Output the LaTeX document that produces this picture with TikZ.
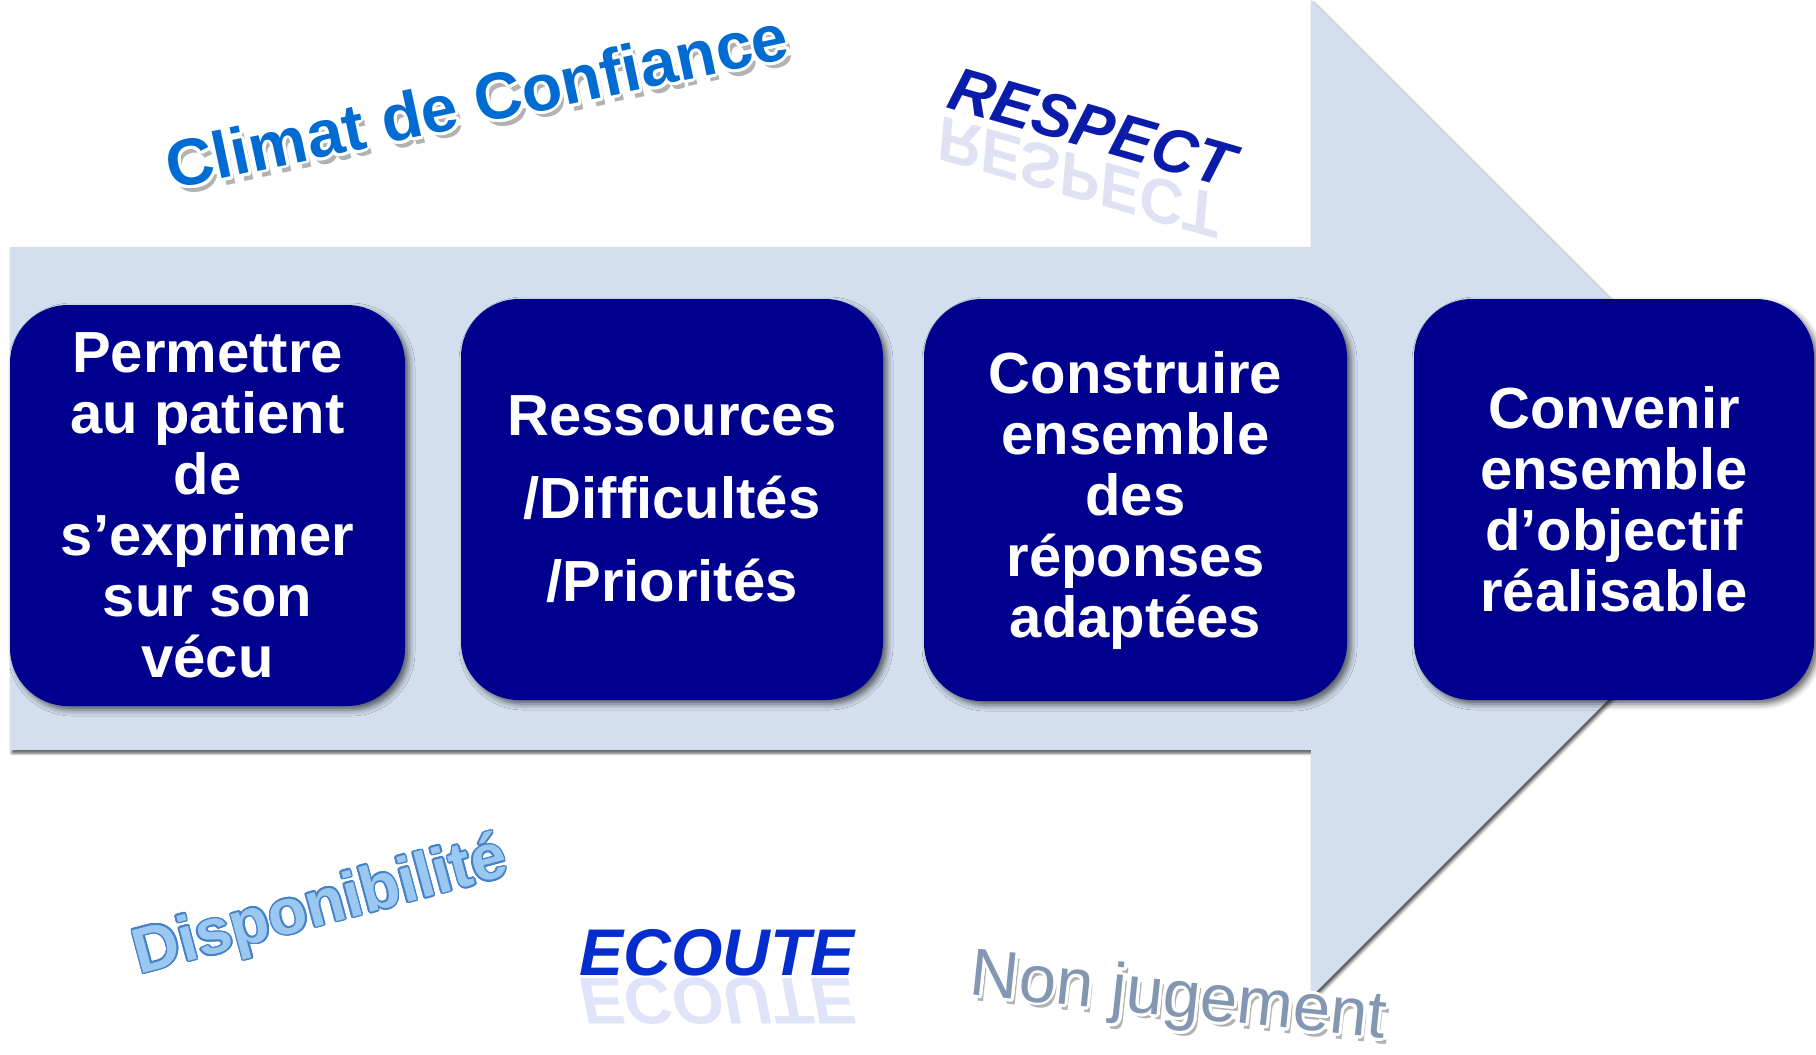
\documentclass[tikz,border=0pt]{standalone}
\usepackage{fontspec}
\setmainfont{Liberation Sans}
\usepackage{contour}
\contournumber{16}
\usetikzlibrary{shadows,shadows.blur,fadings}

\definecolor{arrowfill}{RGB}{211,223,238}
\definecolor{boxnavy}{RGB}{0,0,143}
\definecolor{climatblue}{RGB}{0,108,210}
\definecolor{respectblue}{RGB}{12,28,170}
\definecolor{dispofill}{RGB}{155,200,240}
\definecolor{dispoline}{RGB}{70,130,200}
\definecolor{ecouteblue}{RGB}{5,45,205}
\definecolor{nonjug}{RGB}{132,151,178}

\tikzset{
  stepbox/.style={rounded corners=58pt, fill=boxnavy, text=white, align=center,
    inner sep=0pt, font=\bfseries\fontsize{58}{61}\selectfont,
    blur shadow={shadow xshift=4pt, shadow yshift=-4pt, shadow blur radius=6pt,
      shadow opacity=60}},
  bigarrow/.style={fill=arrowfill,
    blur shadow={shadow xshift=2pt, shadow yshift=-3pt, shadow blur radius=3pt,
      shadow opacity=70}},
  decor/.style={inner sep=0pt},
  softshadow/.style={decor, text=black, opacity=0.3},
  mirror/.style={decor, yscale=-1, opacity=0.13},
}

\begin{document}
\begin{tikzpicture}[x=1pt, y=-1pt]
\useasboundingbox (0,0) rectangle (1816,1055);

% light arrow behind the steps
\path[bigarrow] (10,247) -- (1311,247) -- (1311,0) -- (1810,498)
  -- (1311,997) -- (1311,750) -- (10,750) -- cycle;

% the four steps
\node[stepbox, minimum width=395pt, minimum height=401pt] (s1) at (207.5,505.5)
  {Permettre\\au patient\\de\\s’exprimer\\sur son\\vécu};
\node[stepbox, minimum width=422pt, minimum height=401pt,
  font=\bfseries\fontsize{58}{83}\selectfont] (s2) at (672,499.5)
  {Ressources\\/Difficultés\\/Priorités};
\node[stepbox, minimum width=423pt, minimum height=402pt] (s3) at (1135.5,500)
  {Construire\\ensemble\\des\\réponses\\adaptées};
\node[stepbox, minimum width=400pt, minimum height=401pt] (s4) at (1614,499.5)
  {Convenir\\ensemble\\d’objectif\\réalisable};

% Climat de Confiance
\node[softshadow, rotate=12, font=\bfseries\fontsize{66}{70}\selectfont]
  (climat-sh) at (481,107) {Climat de Confiance};
\contourlength{3pt}
\node[decor, rotate=12, font=\bfseries\fontsize{66}{70}\selectfont]
  (climat) at (477,102) {\textcolor{climatblue}{\contour{white}{Climat de Confiance}}};

% RESPECT with its reflection
\node[decor, rotate=-16, mirror, text=respectblue, font=\bfseries\itshape\fontsize{62}{66}\selectfont]
  (respect-refl) at (1078,177) {RESPECT};
\node[decor, rotate=-16, text=respectblue, font=\bfseries\itshape\fontsize{62}{66}\selectfont]
  (respect) at (1092,127) {RESPECT};

% Disponibilité
\contourlength{1.6pt}
\node[decor, rotate=15, font=\bfseries\fontsize{64}{68}\selectfont]
  (dispo) at (321,909) {\textcolor{dispofill}{\contour{dispoline}{Disponibilité}}};

% ECOUTE with its reflection
\node[mirror, text=ecouteblue, font=\bfseries\itshape\fontsize{66}{70}\selectfont]
  (ecoute-refl) at (717,1001) {ECOUTE};
\node[decor, text=ecouteblue, font=\bfseries\itshape\fontsize{66}{70}\selectfont]
  (ecoute) at (717,953) {ECOUTE};

% Non jugement
\node[softshadow, rotate=-6, font=\fontsize{67}{70}\selectfont]
  (nonjug-sh) at (1182,1005) {Non jugement};
\contourlength{3pt}
\node[decor, rotate=-6, font=\fontsize{67}{70}\selectfont]
  (nonjug) at (1178,1001) {\textcolor{nonjug}{\contour{white}{Non jugement}}};
\end{tikzpicture}
\end{document}
